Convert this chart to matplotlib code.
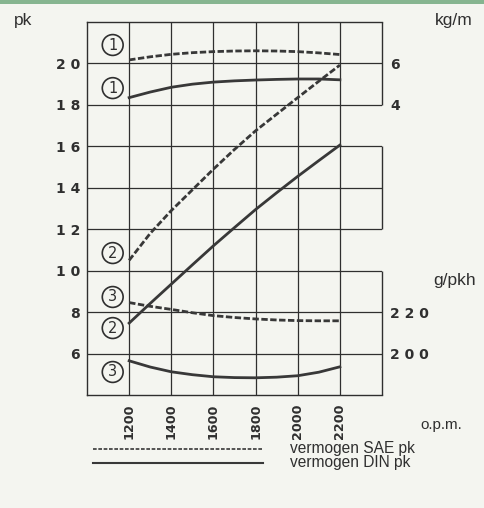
import matplotlib
matplotlib.use("Agg")
import matplotlib.pyplot as plt
from matplotlib.lines import Line2D
from matplotlib.patches import Rectangle

# ---------------- data ----------------
rpm = [1200, 1300, 1400, 1500, 1600, 1700, 1800, 1900, 2000, 2100, 2200]

# power (pk)
sae_pk = [10.5, 11.8, 12.9, 13.9, 14.9, 15.85, 16.75, 17.55, 18.35, 19.14, 19.92]
din_pk = [7.47, 8.42, 9.35, 10.28, 11.2, 12.08, 12.95, 13.76, 14.55, 15.31, 16.06]

# torque (kg/m)
sae_kgm = [6.17, 6.32, 6.44, 6.52, 6.57, 6.60, 6.61, 6.60, 6.57, 6.51, 6.43]
din_kgm = [4.35, 4.62, 4.85, 5.00, 5.10, 5.16, 5.20, 5.23, 5.25, 5.25, 5.21]

# specific consumption (g/pkh)
sae_g = [224.6, 222.8, 221.3, 219.7, 218.3, 217.4, 216.7, 216.2, 215.9, 215.8, 215.8]
din_g = [196.5, 193.5, 191.2, 189.8, 188.8, 188.4, 188.3, 188.6, 189.3, 191.0, 193.6]

x_ticks = [1200, 1400, 1600, 1800, 2000, 2200]
x_labels = ["1200", "1400", "1600", "1800", "2000", "2200"]
pk_ticks = [6, 8, 10, 12, 14, 16, 18, 20]
pk_labels = ["6", "8", "1 0", "1 2", "1 4", "1 6", "1 8", "2 0"]
kgm_ticks = [4, 6]
kgm_labels = ["4", "6"]
g_ticks = [200, 220]
g_labels = ["2 0 0", "2 2 0"]

circle_labels = ["1", "1", "2", "3", "2", "3"]
circle_pk = [20.89, 18.81, 10.85, 8.73, 7.23, 5.11]

legend_labels = ["vermogen SAE pk", "vermogen DIN pk"]

# ---------------- figure ----------------
W, H = 484, 508
BG = "#f4f5f0"
INK = "#2f2f2f"
LINE = "#383838"

fig = plt.figure(figsize=(W / 100, H / 100), dpi=100, facecolor=BG)
fig.patches.append(Rectangle((0, 1 - 4 / H), 1, 4 / H, transform=fig.transFigure,
                             facecolor="#86b590", edgecolor="none", zorder=0))

ax = fig.add_axes([87 / W, 1 - 395 / H, (382 - 87) / W, (395 - 22) / H])
ax.set_facecolor("none")
ax.set_xlim(1000, 2400)
ax.set_ylim(4, 22)

for s in ["left", "top", "bottom"]:
    ax.spines[s].set_color(INK)
    ax.spines[s].set_linewidth(1.0)
ax.spines["right"].set_visible(False)
# broken right border
ax.vlines([2400, 2400, 2400], [18, 12, 4], [22, 16, 10], color=INK, lw=1.0, clip_on=False)

ax.set_xticks(x_ticks, x_labels)
ax.set_yticks(pk_ticks, pk_labels)
ax.grid(True, color=INK, lw=0.9)
ax.set_axisbelow(True)
ax.tick_params(axis="both", length=0)
ax.tick_params(axis="y", pad=5)
ax.tick_params(axis="x", pad=6)
for lab in ax.get_yticklabels():
    lab.set_fontsize(10)
    lab.set_fontweight("bold")
    lab.set_color(INK)
for lab in ax.get_xticklabels():
    lab.set_fontsize(9.2)
    lab.set_fontweight("bold")
    lab.set_color(INK)
    lab.set_rotation(90)

dash = (0, (2.3, 0.9))
LW_D, LW_S = 2.0, 2.0
ax.plot(rpm, sae_pk, color=LINE, lw=LW_D, linestyle=dash, zorder=3)
ax.plot(rpm, din_pk, color=LINE, lw=LW_S, zorder=3)

# torque axis (kg/m): 20 pk <-> 6 kg/m, 18 pk <-> 4 kg/m
ax_t = ax.twinx()
ax_t.set_ylim(-10, 8)
ax_t.plot(rpm, sae_kgm, color=LINE, lw=LW_D, linestyle=dash, zorder=3)
ax_t.plot(rpm, din_kgm, color=LINE, lw=LW_S, zorder=3)
ax_t.set_yticks(kgm_ticks, kgm_labels)

# consumption axis (g/pkh): 8 pk <-> 220, 6 pk <-> 200
ax_g = ax.twinx()
ax_g.set_ylim(180, 360)
ax_g.plot(rpm, sae_g, color=LINE, lw=LW_D, linestyle=dash, zorder=3)
ax_g.plot(rpm, din_g, color=LINE, lw=LW_S, zorder=3)
ax_g.set_yticks(g_ticks, g_labels)

for a in (ax_t, ax_g):
    for s in a.spines.values():
        s.set_visible(False)
    a.patch.set_visible(False)
    a.tick_params(axis="y", length=0, pad=6)
    for lab in a.get_yticklabels():
        lab.set_fontsize(10)
        lab.set_fontweight("bold")
        lab.set_color(INK)

# circled curve numbers
for lab, yv in zip(circle_labels, circle_pk):
    ax.text(1122, yv, lab, ha="center", va="center", fontsize=10.5, color=INK,
            zorder=4,
            bbox=dict(boxstyle="circle,pad=0.2", facecolor="none",
                      edgecolor=INK, linewidth=1.2))

# unit labels
uf = dict(family="Liberation Sans", color=INK, fontsize=12.5, va="center")
fig.text(14 / W, 1 - 20 / H, "pk", ha="left", **uf)
fig.text(473 / W, 1 - 20 / H, "kg/m", ha="right", **uf)
fig.text(476 / W, 1 - 280 / H, "g/pkh", ha="right", **uf)
fig.text(462 / W, 1 - 425 / H, "o.p.m.", ha="right",
         family="Liberation Sans", color=INK, fontsize=11, va="center")

# legend
fig.add_artist(Line2D([93 / W, 263 / W], [1 - 449 / H, 1 - 449 / H],
                      transform=fig.transFigure, color=LINE, lw=1.2,
                      linestyle=(0, (2.2, 1.0))))
fig.add_artist(Line2D([93 / W, 263 / W], [1 - 463 / H, 1 - 463 / H],
                      transform=fig.transFigure, color=LINE, lw=1.5))
for i, t in enumerate(legend_labels):
    fig.text(290 / W, 1 - (449 + 14 * i) / H, t, ha="left", va="center",
             family="Liberation Sans", fontsize=11.2, color=INK)

fig.savefig("out.png", dpi=100, facecolor=BG)
